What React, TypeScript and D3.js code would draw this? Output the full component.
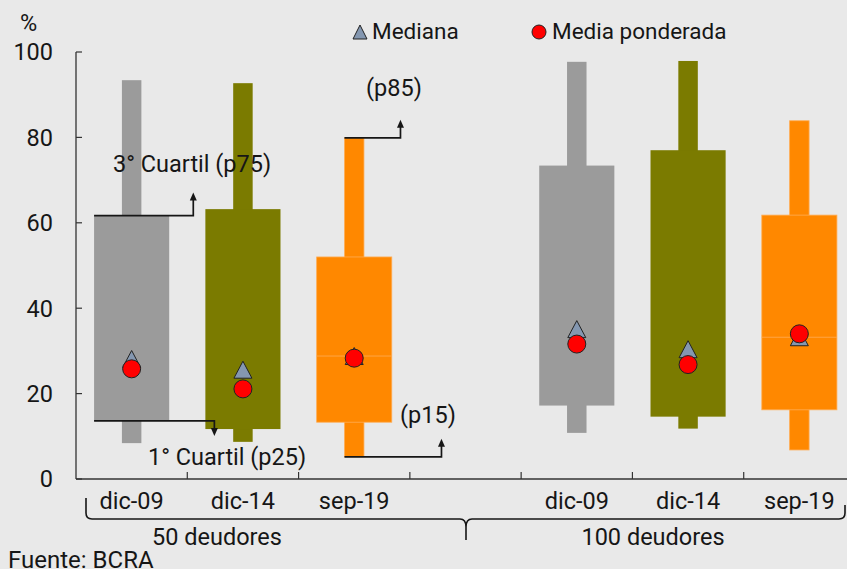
import React from "react";
import * as d3 from "d3";

const groups = ["50 deudores", "100 deudores"];
const categories = ["dic-09", "dic-14", "sep-19"];
const slots = ["g1-dic-09", "g1-dic-14", "g1-sep-19", "gap", "g2-dic-09", "g2-dic-14", "g2-sep-19"];
const seriesColors = ["#9b9b9b", "#7b7b00", "#ff8800"];

const p15 = [8.4, 8.7, 5.2, 10.8, 11.8, 6.8];
const p25 = [13.6, 11.7, 13.3, 17.2, 14.6, 16.2];
const medians = [28.1, 25.6, 28.8, 35.1, 30.4, 33.2];
const p75 = [61.7, 63.2, 52.0, 73.4, 77.0, 61.8];
const p85 = [93.4, 92.7, 79.9, 97.7, 97.9, 83.9];
const means = [25.8, 21.1, 28.3, 31.6, 26.8, 34.0];
const yTicks = [0, 20, 40, 60, 80, 100];

const W = 847;
const H = 569;
const FONT = "Roboto, 'Noto Sans', sans-serif";
const INK = "#161616";
const FS = 23.5;

export default function App() {
  const x = d3.scaleBand<string>().domain(slots).range([76, 855]).padding(0);
  const y = d3.scaleLinear().domain([0, 100]).range([479, 52]);
  const bw = x.bandwidth();
  const boxW = bw * 0.675;
  const whW = bw * 0.175;

  const items = [0, 1, 2, 3, 4, 5].map((i) => {
    const g = i < 3 ? 0 : 1;
    const c = i % 3;
    const slot = slots[g === 0 ? c : c + 4];
    const cx = (x(slot) as number) + bw / 2;
    return { i, g, c, cx };
  });

  const triPath = (w: number, h: number) =>
    `M0,${-h / 2}L${w / 2},${h / 2}L${-w / 2},${h / 2}Z`;

  const arrowUp = (ax: number, ay: number) => `M${ax},${ay}L${ax - 3.5},${ay + 8}L${ax + 3.5},${ay + 8}Z`;
  const arrowDown = (ax: number, ay: number) => `M${ax},${ay}L${ax - 3.5},${ay - 8}L${ax + 3.5},${ay - 8}Z`;

  const boundaries = slots.slice(1).map((s) => x(s) as number);

  const a = items[0];
  const cItem = items[2];
  const boxLeft0 = a.cx - boxW / 2;
  const whLeft2 = cItem.cx - whW / 2;

  const p75y = y(p75[0]);
  const p75x2 = (x(slots[1]) as number) + 6;
  const p25y = y(p25[0]);
  const p25x2 = items[1].cx - boxW / 2 + 9;
  const p85y = y(p85[2]);
  const p85x2 = whLeft2 + 56;
  const p15y = y(p15[2]);
  const p15x2 = whLeft2 + 97;

  const braceY = 519;
  const braceL = 86;
  const braceR = 845;
  const braceMid = 466;

  return (
    <svg
      width={W}
      height={H}
      style={{ position: "absolute", left: 0, top: 0, display: "block" }}
      fontFamily={FONT}
    >
      <rect x={0} y={0} width={W} height={H} fill="#e9e9e9" />

      {items.map((d) => (
        <g key={"b" + d.i}>
          <rect
            x={d.cx - whW / 2}
            y={y(p85[d.i])}
            width={whW}
            height={y(p15[d.i]) - y(p85[d.i])}
            fill={seriesColors[d.c]}
            stroke={d.c === 2 ? "#ffad55" : "none"}
            strokeWidth={0.8}
          />
          <rect
            x={d.cx - boxW / 2}
            y={y(p75[d.i])}
            width={boxW}
            height={y(p25[d.i]) - y(p75[d.i])}
            fill={seriesColors[d.c]}
            stroke={d.c === 2 ? "#ffad55" : "none"}
            strokeWidth={0.8}
          />
          {d.c === 2 && (
            <line
              x1={d.cx - boxW / 2}
              x2={d.cx + boxW / 2}
              y1={y(medians[d.i])}
              y2={y(medians[d.i])}
              stroke="#ffad55"
              strokeWidth={0.8}
            />
          )}
        </g>
      ))}

      {items.map((d) => (
        <g key={"m" + d.i}>
          <path
            d={triPath(18, 17)}
            transform={`translate(${d.cx},${y(medians[d.i])})`}
            fill="#8497b0"
            stroke="#222"
            strokeWidth={1}
          />
          <circle cx={d.cx} cy={y(means[d.i])} r={9} fill="#ff0000" stroke="#222" strokeWidth={1} />
        </g>
      ))}

      <line x1={76} x2={76} y1={y(100)} y2={y(0)} stroke="#333" strokeWidth={1.3} />
      <line x1={76} x2={W} y1={y(0)} y2={y(0)} stroke="#333" strokeWidth={1.3} />
      {yTicks.map((t) => (
        <g key={"yt" + t}>
          <line x1={76} x2={82} y1={y(t)} y2={y(t)} stroke="#333" strokeWidth={1.2} />
          <text x={53} y={y(t)} dy="0.36em" textAnchor="end" fontSize={FS} fill={INK}>
            {t}
          </text>
        </g>
      ))}
      {boundaries.map((bx, i) => (
        <line key={"xt" + i} x1={bx} x2={bx} y1={y(0)} y2={y(0) - 7} stroke="#333" strokeWidth={1.2} />
      ))}
      <text x={20} y={31} fontSize={FS} fill={INK}>%</text>

      {items.map((d) => (
        <text key={"xl" + d.i} x={d.cx} y={509} textAnchor="middle" fontSize={FS} fill={INK}>
          {categories[d.c]}
        </text>
      ))}

      <path
        d={`M${braceL},498 L${braceL},513 Q${braceL},${braceY} ${braceL + 6},${braceY} L${braceMid - 6},${braceY} Q${braceMid},${braceY} ${braceMid},${braceY + 8} L${braceMid},540 M${braceMid},${braceY + 8} Q${braceMid},${braceY} ${braceMid + 6},${braceY} L${braceR - 6},${braceY} Q${braceR},${braceY} ${braceR},${braceY - 6} L${braceR},505`}
        fill="none"
        stroke={INK}
        strokeWidth={1.6}
      />
      <text x={217} y={545} textAnchor="middle" fontSize={FS} fill={INK}>{groups[0]}</text>
      <text x={653} y={545} textAnchor="middle" fontSize={FS} fill={INK}>{groups[1]}</text>
      <text x={8} y={568} fontSize={24} fill={INK}>Fuente: BCRA</text>

      <path d={triPath(14, 14)} transform="translate(360,32)" fill="#8497b0" stroke="#222" strokeWidth={1} />
      <text x={372} y={39} fontSize={22.5} fill={INK}>Mediana</text>
      <circle cx={539} cy={32} r={7} fill="#ff0000" stroke="#222" strokeWidth={1} />
      <text x={552} y={39} fontSize={22.5} fill={INK}>Media ponderada</text>

      <g stroke={INK} strokeWidth={1.7} fill="none">
        <path d={`M${boxLeft0},${p75y} L${p75x2},${p75y} L${p75x2},${p75y - 16}`} />
        <path d={`M${boxLeft0},${p25y} L${p25x2},${p25y} L${p25x2},${p25y + 8}`} />
        <path d={`M${whLeft2},${p85y} L${p85x2},${p85y} L${p85x2},${p85y - 12}`} />
        <path d={`M${whLeft2},${p15y} L${p15x2},${p15y} L${p15x2},${p15y - 12}`} />
      </g>
      <g fill={INK}>
        <path d={arrowUp(p75x2, p75y - 23)} />
        <path d={arrowDown(p25x2, p25y + 15)} />
        <path d={arrowUp(p85x2, p85y - 18)} />
        <path d={arrowUp(p15x2, p15y - 18)} />
      </g>
      <text x={113} y={172} fontSize={FS} fill={INK}>3° Cuartil (p75)</text>
      <text x={148} y={465} fontSize={FS} fill={INK}>1° Cuartil (p25)</text>
      <text x={366} y={96} fontSize={FS} fill={INK}>(p85)</text>
      <text x={400} y={423} fontSize={FS} fill={INK}>(p15)</text>
    </svg>
  );
}
